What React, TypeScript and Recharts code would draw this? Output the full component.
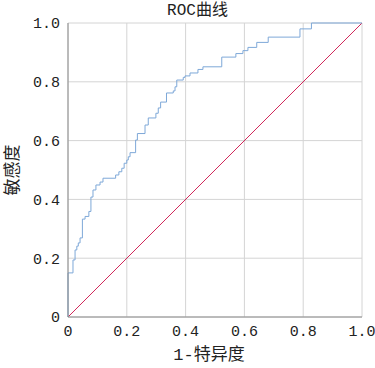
import { LineChart, Line, XAxis, YAxis, CartesianGrid } from 'recharts'

// upper-left corner of each step of the ROC curve (1-specificity, sensitivity)
const fpr = [
  0, 0.017, 0.024, 0.03, 0.035, 0.041, 0.049, 0.058, 0.071, 0.078, 0.085, 0.095, 0.109, 0.119,
  0.162, 0.173, 0.183, 0.191, 0.2, 0.205, 0.211, 0.23, 0.236, 0.262, 0.273, 0.299, 0.307, 0.315,
  0.335, 0.358, 0.364, 0.37, 0.392, 0.398, 0.415, 0.442, 0.459, 0.523, 0.571, 0.595, 0.612, 0.642,
  0.681, 0.789, 0.828, 1.0,
]
const tpr = [
  0.15, 0.194, 0.228, 0.241, 0.252, 0.269, 0.333, 0.342, 0.359, 0.408, 0.432, 0.449, 0.459, 0.472,
  0.483, 0.494, 0.506, 0.523, 0.534, 0.545, 0.559, 0.602, 0.624, 0.653, 0.677, 0.693, 0.711, 0.731,
  0.762, 0.769, 0.783, 0.806, 0.815, 0.82, 0.83, 0.842, 0.851, 0.884, 0.896, 0.906, 0.917, 0.934,
  0.952, 0.98, 1.0, 1.0,
]
const refX = [0, 1]
const refY = [0, 1]
const ticks = [0, 0.2, 0.4, 0.6, 0.8, 1.0]

const rocData = [{ fpr: 0, tpr: 0 }, ...fpr.map((x, i) => ({ fpr: x, tpr: tpr[i] }))]
const refData = refX.map((x, i) => ({ fpr: x, tpr: refY[i] }))

const tickFont = { fontSize: 15, fill: '#222', fontFamily: '"Liberation Mono", monospace' }
const cjk = '"Liberation Mono", "Noto Sans CJK SC", sans-serif'

function fmt(v: number): string {
  return v === 0 ? '0' : v.toFixed(1)
}

export default function App() {
  return (
    <div style={{ position: 'absolute', left: 0, top: 0, width: 375, height: 368, background: '#fff' }}>
      <div
        style={{
          position: 'absolute',
          left: 0,
          width: 395,
          top: 1,
          textAlign: 'center',
          fontSize: 16,
          fontFamily: cjk,
          color: '#222',
          lineHeight: '20px',
        }}
      >
        ROC曲线
      </div>
      <div
        style={{
          position: 'absolute',
          left: 0,
          width: 418,
          top: 345,
          textAlign: 'center',
          fontSize: 17,
          fontFamily: cjk,
          color: '#222',
          lineHeight: '22px',
        }}
      >
        1-特异度
      </div>
      <LineChart width={375} height={368} margin={{ top: 23, right: 13, bottom: 0, left: 0 }}>
        <CartesianGrid stroke="#d4d4d4" horizontalValues={ticks} verticalValues={ticks} />
        <XAxis
          dataKey="fpr"
          type="number"
          domain={[0, 1]}
          ticks={ticks}
          tickFormatter={fmt}
          height={51}
          tickLine={false}
          tickSize={0}
          tickMargin={8}
          axisLine={{ stroke: '#8c8c8c' }}
          tick={tickFont}
          allowDuplicatedCategory={false}
        />
        <YAxis
          type="number"
          domain={[0, 1]}
          ticks={ticks}
          tickFormatter={fmt}
          width={68}
          tickLine={false}
          tickSize={0}
          tickMargin={8}
          axisLine={{ stroke: '#8c8c8c' }}
          tick={tickFont}
          label={{
            value: '敏感度',
            angle: -90,
            position: 'insideLeft',
            offset: 12,
            style: { fontSize: 17, fill: '#222', fontFamily: cjk, textAnchor: 'middle' },
          }}
        />
        <Line
          data={refData}
          dataKey="tpr"
          type="linear"
          stroke="#d1285a"
          strokeWidth={1}
          dot={false}
          isAnimationActive={false}
        />
        <Line
          data={rocData}
          dataKey="tpr"
          type="stepAfter"
          stroke="#7ea8d8"
          strokeWidth={1}
          dot={false}
          isAnimationActive={false}
        />
      </LineChart>
    </div>
  )
}
